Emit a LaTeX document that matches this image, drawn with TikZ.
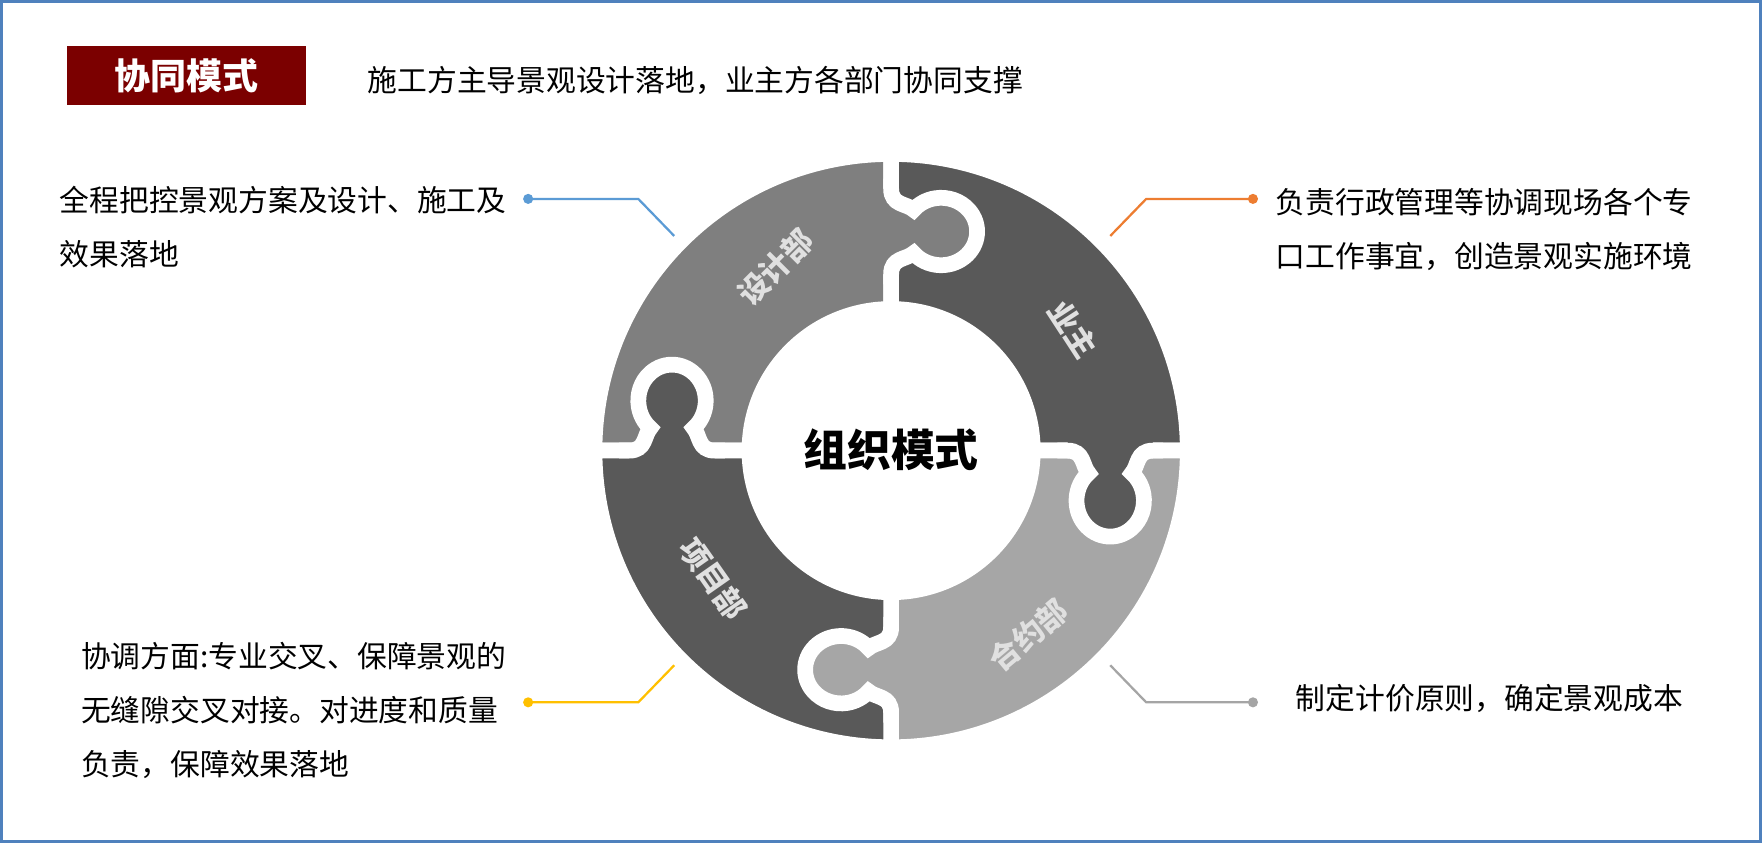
\documentclass[tikz,border=0pt]{standalone}
\usepackage{fontspec}
\newfontfamily\cjk{Noto Sans CJK SC}
\definecolor{pA}{HTML}{7F7F7F}
\definecolor{pB}{HTML}{595959}
\definecolor{pC}{HTML}{A6A6A6}
\definecolor{pD}{HTML}{595959}
\definecolor{cblue}{HTML}{5B9BD5}
\definecolor{corange}{HTML}{ED7D31}
\definecolor{cyellow}{HTML}{FFC000}
\definecolor{cgray}{HTML}{A5A5A5}
\definecolor{hdred}{HTML}{7B0000}
\definecolor{frame}{HTML}{4F81BD}
\tikzset{
 desc/.style={anchor=west,align=left,inner sep=0pt,font=\cjk\fontsize{26.5}{48}\selectfont},
 lbl/.style={font=\cjk\bfseries\fontsize{27}{30}\selectfont,text=white!88!black,inner sep=0pt},
 dotn/.style={circle,inner sep=0pt,minimum size=9pt},
 conn/.style={line width=2pt},
 gapline/.style={draw=white,line width=14pt},
}
\newcommand{\sectorpath}[2]{(#1:126) -- (#1:264) arc[start angle=#1,end angle=#2,radius=264] -- (#2:126) arc[start angle=#2,end angle=#1,radius=126] -- cycle}
\newcommand{\knob}[2]{%
 \begin{scope}[rotate=#1-90]
  \fill[#2] (-10,157) -- (0,157) .. controls (0,172) and (14,170) .. (20,175.7) arc[start angle=-140,end angle=140,x radius=32,y radius=30] .. controls (14,220) and (0,218) .. (0,233) -- (-10,233) -- cycle;
  \draw[white,line width=14pt] (0,148) -- (0,157) .. controls (0,172) and (14,170) .. (20,175.7) arc[start angle=-140,end angle=140,x radius=32,y radius=30] .. controls (14,220) and (0,218) .. (0,233) -- (0,242);
 \end{scope}}
\begin{document}
\begin{tikzpicture}[x=1pt,y=1pt]
\useasboundingbox (0,0) rectangle (1568,750);
\fill[white] (0,0) rectangle (1568,750);
\draw[frame,line width=2.5pt] (1,1) rectangle (1567,749);
% header
\node[fill=hdred,minimum width=212pt,minimum height=53pt,inner sep=0pt,text=white,font=\cjk\bfseries\fontsize{32}{36}\selectfont] (hdr) at (166,683) {协同模式};
\node[anchor=west,inner sep=0pt,font=\cjk\fontsize{26.5}{30}\selectfont] (sub) at (327,678) {施工方主导景观设计落地，业主方各部门协同支撑};
% ring
\begin{scope}[shift={(793,349)}]
 \filldraw[fill=pA,gapline] \sectorpath{90}{180};
 \filldraw[fill=pB,gapline] \sectorpath{0}{90};
 \filldraw[fill=pC,gapline] \sectorpath{-90}{0};
 \filldraw[fill=pD,gapline] \sectorpath{180}{270};
 \knob{90}{pA}
 \knob{0}{pB}
 \knob{-90}{pC}
 \knob{180}{pD}
 \node[font=\cjk\bfseries\fontsize{39}{44}\selectfont] (center) at (0,1) {组织模式};
\end{scope}
\node[lbl,rotate=45] (l1) at (690,512) {设计部};
\node[lbl,rotate=-57] (l2) at (955,457) {业主};
\node[lbl,rotate=40] (l3) at (915,185) {合约部};
\node[lbl,rotate=-55] (l4) at (635,235) {项目部};
% connectors
\node[dotn,fill=cblue] (d1) at (470,573) {};
\coordinate (b1) at (568,573); \coordinate (e1) at (600,540);
\draw[conn,cblue] (d1.center) -- (b1) -- (e1);
\node[dotn,fill=corange] (d2) at (1115,573) {};
\coordinate (b2) at (1020,573); \coordinate (e2) at (988,540);
\draw[conn,corange] (d2.center) -- (b2) -- (e2);
\node[dotn,fill=cyellow] (d3) at (470,125) {};
\coordinate (b3) at (568,125); \coordinate (e3) at (600,158);
\draw[conn,cyellow] (d3.center) -- (b3) -- (e3);
\node[dotn,fill=cgray] (d4) at (1115,125) {};
\coordinate (b4) at (1020,125); \coordinate (e4) at (988,158);
\draw[conn,cgray] (d4.center) -- (b4) -- (e4);
% descriptions
\node[desc] (t1) at (53,548) {全程把控景观方案及设计、施工及\\效果落地};
\node[desc] (t2) at (1135,546) {负责行政管理等协调现场各个专\\口工作事宜，创造景观实施环境};
\node[desc] (t3) at (72,118) {协调方面:专业交叉、保障景观的\\无缝隙交叉对接。对进度和质量\\负责，保障效果落地};
\node[desc] (t4) at (1153,128) {制定计价原则，确定景观成本};
\end{tikzpicture}
\end{document}
